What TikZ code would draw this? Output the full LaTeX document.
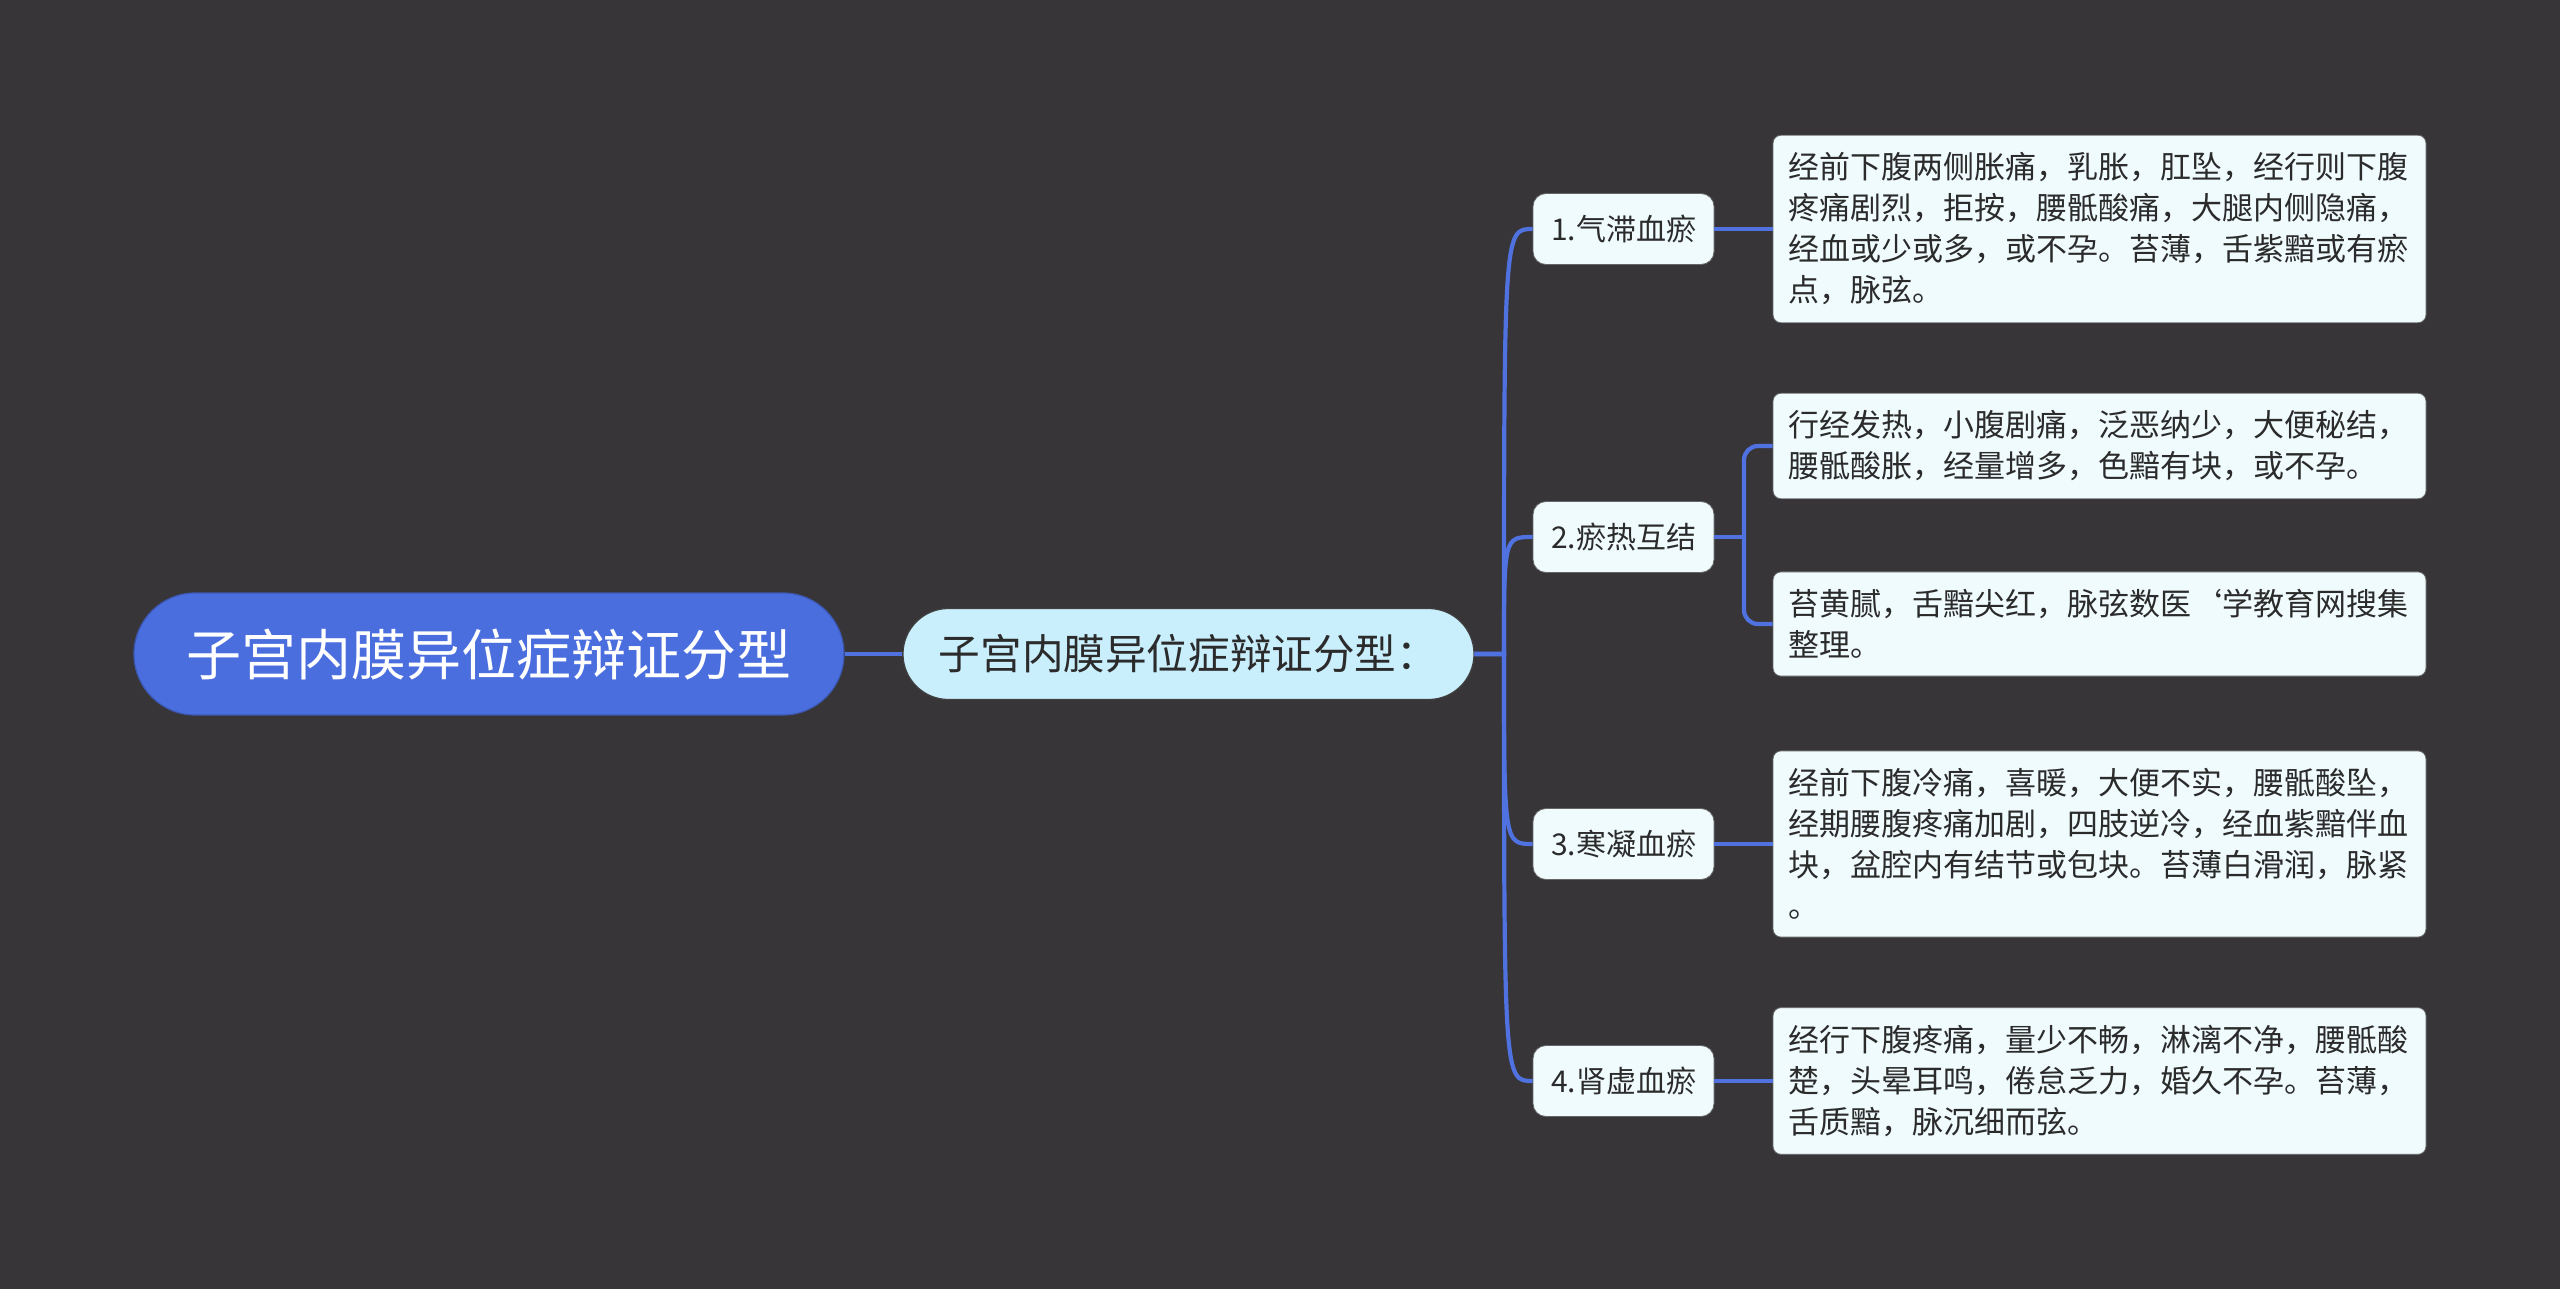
\documentclass[tikz,border=0pt]{standalone}
\usepackage{fontspec}
\setmainfont{Noto Sans CJK SC}
\usetikzlibrary{positioning}
\definecolor{bgdark}{HTML}{373538}
\definecolor{rootblue}{HTML}{4B6EDF}
\definecolor{linkblue}{HTML}{4F72E0}
\definecolor{mainfill}{HTML}{C9EEFC}
\definecolor{leaffill}{HTML}{F0FBFE}
\definecolor{inkdark}{HTML}{2B2B2B}

\begin{document}
\begin{tikzpicture}[x=0.5pt, y=-0.5pt,
  link/.style={draw=linkblue, line width=2.1pt},
  rootbox/.style={draw=rootblue!80!black, line width=0.6pt, fill=rootblue, text=white, rounded corners=30.5pt, minimum width=355pt, minimum height=61pt, inner sep=0pt, font=\fontsize{27.5}{32}\selectfont},
  mainbox/.style={draw=black!75, line width=0.6pt, fill=mainfill, text=inkdark, rounded corners=22.75pt, minimum width=285.5pt, minimum height=45.5pt, inner sep=0pt, font=\fontsize{20.8}{25}\selectfont},
  typebox/.style={draw=black!60, line width=0.4pt, fill=leaffill, text=inkdark, rounded corners=6.5pt, minimum width=90.5pt, minimum height=35.5pt, inner sep=0pt, font=\fontsize{15}{18}\selectfont},
  leafbox/.style={draw=black!60, line width=0.4pt, fill=leaffill, text=inkdark, rounded corners=4pt, text width=311pt, align=left, inner xsep=7.75pt, inner ysep=8.75pt, font=\fontsize{15.5}{20.5}\selectfont}]
		%background
		\useasboundingbox (0,0) rectangle (2560,1289);
		\fill[bgdark] (0,0) rectangle (2560,1289);
		%diagram
		\node[rootbox] (root) at (489,654) {子宫内膜异位症辩证分型};
		\node[mainbox] (main) at (1188.5,654) {子宫内膜异位症辩证分型：};
		\node[typebox] (qizhi) at (1623.5,229) {1.气滞血瘀};
		\node[typebox] (yure) at (1623.5,537) {2.瘀热互结};
		\node[typebox] (hanning) at (1623.5,844) {3.寒凝血瘀};
		\node[typebox] (shenxu) at (1623.5,1081) {4.肾虚血瘀};
		%details
		\node[leafbox] (qizhiTxt) at (2099.5,229) {经前下腹两侧胀痛，乳胀，肛坠，经行则下腹\\疼痛剧烈，拒按，腰骶酸痛，大腿内侧隐痛，\\经血或少或多，或不孕。苔薄，舌紫黯或有瘀\\点，脉弦。};
		\node[leafbox] (yureTxtA) at (2099.5,446) {行经发热，小腹剧痛，泛恶纳少，大便秘结，\\腰骶酸胀，经量增多，色黯有块，或不孕。};
		\node[leafbox] (yureTxtB) at (2099.5,624) {苔黄腻，舌黯尖红，脉弦数医{\char"60}学教育网搜集\\整理。};
		\node[leafbox] (hanningTxt) at (2099.5,844) {经前下腹冷痛，喜暖，大便不实，腰骶酸坠，\\经期腰腹疼痛加剧，四肢逆冷，经血紫黯伴血\\块，盆腔内有结节或包块。苔薄白滑润，脉紧\\。};
		\node[leafbox] (shenxuTxt) at (2099.5,1081) {经行下腹疼痛，量少不畅，淋漓不净，腰骶酸\\楚，头晕耳鸣，倦怠乏力，婚久不孕。苔薄，\\舌质黯，脉沉细而弦。};
		%links
		\coordinate (spine) at (1504,654);
		\coordinate (fork) at (1744,537);
		\draw[link] (root) -- (main);
		\foreach \n in {qizhi,yure,hanning,shenxu}
			\draw[link] (main.east) -- (spine) .. controls (spine |- \n) .. (\n.west);
		\draw[link] (qizhi) -- (qizhiTxt);
		\draw[link] (yure.east) -- (fork);
		\draw[link, rounded corners=7pt] (fork) |- (yureTxtA.west);
		\draw[link, rounded corners=7pt] (fork) |- (yureTxtB.west);
		\draw[link] (hanning) -- (hanningTxt);
		\draw[link] (shenxu) -- (shenxuTxt);
\end{tikzpicture}
\end{document}
